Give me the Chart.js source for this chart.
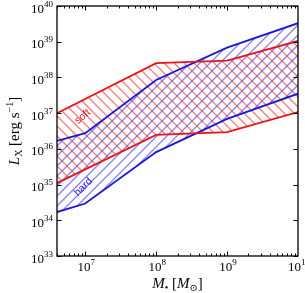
<!DOCTYPE html>
<html>
<head>
<meta charset="utf-8">
<script src="https://cdn.jsdelivr.net/npm/chart.js@4.4.0/dist/chart.umd.min.js"></script>
<style>
  html, body { margin: 0; padding: 0; background: #fff; overflow: hidden; }
  #wrap { width: 305px; height: 293px; }
</style>
</head>
<body>
<div id="wrap"><canvas id="lxChart" width="305" height="293"></canvas></div>
<script>
// black hole mass in solar masses
const massHard = [4e6, 1e7, 1e8, 1e9, 1e10];
const hardUpper = [1.66e36, 2.75e36, 8.5e37, 6.8e38, 3.3e39];
const hardLower = [1.7e34, 2.95e34, 8.1e35, 6.9e36, 3.5e37];

const massSoft = [4e6, 1e8, 1e9, 1e10];
const softUpper = [1.0e37, 2.5e38, 2.95e38, 1.05e39];
const softLower = [1.1e35, 2.45e36, 2.95e36, 1.07e37];

const xTicks = [1e7, 1e8, 1e9, 1e10];
const xTickExp = ['7', '8', '9', '10'];
const yTicks = [1e33, 1e34, 1e35, 1e36, 1e37, 1e38, 1e39, 1e40];
const yTickExp = ['33', '34', '35', '36', '37', '38', '39', '40'];

const bandLabels = [
  { text: 'soft', x: 9.2e6, y: 8.0e36, rot: -40, color: '#e8141c' },
  { text: 'hard', x: 9.4e6, y: 8.5e34, rot: -45, color: '#1818d8' }
];

const RED = '#e8141c';
const BLUE = '#1818d8';
const SERIF = '"Liberation Serif", "DejaVu Serif", serif';

// which datasets bound each hatched band
const bands = [
  { upper: 2, lower: 3, color: 'rgba(50,50,240,0.6)', dir: 1 },
  { upper: 0, lower: 1, color: 'rgba(240,40,40,0.6)', dir: -1 }
];

function pts(xs, ys) {
    return xs.map((x, i) => ({ x: x, y: ys[i] }));
}

function drawPow(ctx, exp, x, y, align) {
    ctx.font = '13px ' + SERIF;
    const w1 = ctx.measureText('10').width;
    ctx.font = '9px ' + SERIF;
    const w2 = ctx.measureText(exp).width;
    let left = x;
    if (align === 'center') left = x - (w1 + w2) / 2;
    if (align === 'right') left = x - (w1 + w2);
    ctx.textAlign = 'left';
    ctx.textBaseline = 'alphabetic';
    ctx.font = '13px ' + SERIF;
    ctx.fillText('10', left, y);
    ctx.font = '9px ' + SERIF;
    ctx.fillText(exp, left + w1, y - 6);
}

// draw a run of [text, font, baselineShift] pieces centred on 0
function drawRun(ctx, parts) {
    let total = 0;
    for (const p of parts) { ctx.font = p[1]; total += ctx.measureText(p[0]).width; }
    let cx = -total / 2;
    ctx.textAlign = 'left';
    ctx.textBaseline = 'alphabetic';
    for (const p of parts) {
        ctx.font = p[1];
        ctx.fillText(p[0], cx, p[2]);
        cx += ctx.measureText(p[0]).width;
    }
}

// hatch the area between two line datasets, using the points chart.js placed
const hatchPlugin = {
    id: 'hatch',
    beforeDatasetsDraw(chart) {
        const { ctx, chartArea: a } = chart;
        for (const b of bands) {
            const up = chart.getDatasetMeta(b.upper).data;
            const lo = chart.getDatasetMeta(b.lower).data;
            ctx.save();
            ctx.beginPath();
            ctx.rect(a.left, a.top, a.right - a.left, a.bottom - a.top);
            ctx.clip();
            ctx.beginPath();
            up.forEach((p, i) => i ? ctx.lineTo(p.x, p.y) : ctx.moveTo(p.x, p.y));
            for (let i = lo.length - 1; i >= 0; i--) ctx.lineTo(lo[i].x, lo[i].y);
            ctx.closePath();
            ctx.clip();
            ctx.strokeStyle = b.color;
            ctx.lineWidth = 1.3;
            ctx.beginPath();
            const h = a.bottom - a.top;
            for (let c = a.left - h - 20; c < a.right + h + 20; c += 10) {
                if (b.dir > 0) {
                    ctx.moveTo(c, a.bottom); ctx.lineTo(c + h, a.top);
                } else {
                    ctx.moveTo(c, a.top); ctx.lineTo(c + h, a.bottom);
                }
            }
            ctx.stroke();
            ctx.restore();
        }
    }
};

const framePlugin = {
    id: 'frame',
    afterDraw(chart) {
        const { ctx, chartArea: a, scales: { x, y } } = chart;
        ctx.save();
        ctx.strokeStyle = '#000';
        ctx.fillStyle = '#000';
        ctx.lineWidth = 1;

        // ticks pointing inward on all sides
        ctx.beginPath();
        for (let d = 6; d <= 9; d++) {
            for (let k = 1; k <= 9; k++) {
                const v = k * Math.pow(10, d);
                if (v < x.min || v > x.max) continue;
                const px = Math.round(x.getPixelForValue(v)) + 0.5;
                const len = k === 1 ? 4.5 : 2.5;
                ctx.moveTo(px, a.bottom); ctx.lineTo(px, a.bottom - len);
                ctx.moveTo(px, a.top); ctx.lineTo(px, a.top + len);
            }
        }
        for (const v of yTicks) {
            const py = Math.round(y.getPixelForValue(v)) + 0.5;
            ctx.moveTo(a.left, py); ctx.lineTo(a.left + 4.5, py);
            ctx.moveTo(a.right, py); ctx.lineTo(a.right - 4.5, py);
        }
        ctx.stroke();

        ctx.lineWidth = 1.3;
        ctx.strokeRect(a.left, a.top, a.right - a.left, a.bottom - a.top);

        // tick labels
        xTicks.forEach((v, i) => drawPow(ctx, xTickExp[i], x.getPixelForValue(v) + 1, a.bottom + 15, 'center'));
        yTicks.forEach((v, i) => drawPow(ctx, yTickExp[i], a.left - 4, y.getPixelForValue(v) + 6.5, 'right'));

        // axis titles
        const it = 'italic 15px ' + SERIF, rm = '15px ' + SERIF, sm = '10px ' + SERIF;
        ctx.save();
        ctx.translate(19, (a.top + a.bottom) / 2);
        ctx.rotate(-Math.PI / 2);
        drawRun(ctx, [['L', it, 0], ['X', sm, 3], [' [erg s', rm, 0], ['\u22121', sm, -6], [']', rm, 0]]);
        ctx.restore();

        ctx.save();
        ctx.translate((a.left + a.right) / 2, 288);
        drawRun(ctx, [['M', it, 0], ['\u2022', sm, 3], [' [', rm, 0], ['M', it, 0], ['\u2299', sm, 3], [']', rm, 0]]);
        ctx.restore();

        // band labels
        for (const b of bandLabels) {
            ctx.save();
            ctx.translate(x.getPixelForValue(b.x), y.getPixelForValue(b.y));
            ctx.rotate(b.rot * Math.PI / 180);
            ctx.fillStyle = b.color;
            ctx.font = '10.5px "Liberation Sans", Arial, sans-serif';
            ctx.textAlign = 'center';
            ctx.textBaseline = 'middle';
            ctx.fillText(b.text, 0, 0);
            ctx.restore();
        }
        ctx.restore();
    }
};

const ctx = document.getElementById('lxChart').getContext('2d');
new Chart(ctx, {
    type: 'line',
    data: {
        datasets: [
            { data: pts(massSoft, softUpper), borderColor: RED },
            { data: pts(massSoft, softLower), borderColor: RED },
            { data: pts(massHard, hardUpper), borderColor: BLUE },
            { data: pts(massHard, hardLower), borderColor: BLUE }
        ]
    },
    options: {
        responsive: false,
        animation: false,
        layout: { padding: { left: 57, top: 6, right: 7, bottom: 37 } },
        plugins: { legend: { display: false }, tooltip: { enabled: false } },
        elements: { point: { radius: 0 }, line: { tension: 0, borderWidth: 1.8, fill: false } },
        scales: {
            x: { type: 'logarithmic', min: 4e6, max: 1e10, display: false },
            y: { type: 'logarithmic', min: 1e33, max: 1e40, display: false }
        }
    },
    plugins: [hatchPlugin, framePlugin]
});
</script>
</body>
</html>
